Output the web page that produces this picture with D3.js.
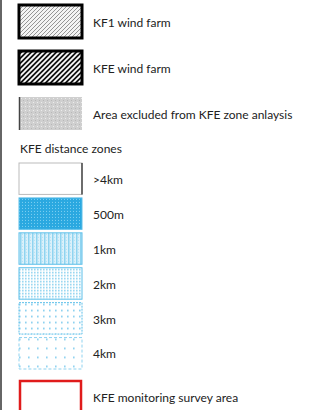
<!DOCTYPE html>
<html>
<head>
<meta charset="utf-8">
<script src="https://cdn.jsdelivr.net/npm/d3@7"></script>
<style>
  body { margin: 0; background: #fff; }
  svg { display: block; font-family: Lato, "Open Sans", sans-serif; }
</style>
</head>
<body>
<div id="chart"></div>
<script>
// Legend entries (top group)
const farmLabels = ['KF1 wind farm', 'KFE wind farm', 'Area excluded from KFE zone anlaysis'];
const farmPatterns = ['hatchLight', 'hatchDark', 'greyDots'];

// Distance zone entries
const zoneTitle = 'KFE distance zones';
const zoneLabels = ['>4km', '500m', '1km', '2km', '3km', '4km'];
const zonePatterns = ['none', 'zone500', 'zone1k', 'zone2k', 'zone3k', 'zone4k'];

// Survey area
const surveyLabel = 'KFE monitoring survey area';

const width = 311, height = 410;
const fontSize = 12;
const svg = d3.select('#chart').append('svg')
    .attr('width', width)
    .attr('height', height);

const defs = svg.append('defs');

// light diagonal hatch
let p = defs.append('pattern').attr('id', 'hatchLight').attr('patternUnits', 'userSpaceOnUse')
    .attr('width', 4).attr('height', 4);
p.append('rect').attr('width', 4).attr('height', 4).attr('fill', '#f4f4f4');
p.append('path').attr('d', 'M-1,1 l2,-2 M0,4 l4,-4 M3,5 l2,-2')
    .attr('stroke', '#8a8a8a').attr('stroke-width', 0.9);

// dark dense hatch
p = defs.append('pattern').attr('id', 'hatchDark').attr('patternUnits', 'userSpaceOnUse')
    .attr('width', 5).attr('height', 5);
p.append('rect').attr('width', 5).attr('height', 5).attr('fill', '#111');
p.append('path').attr('d', 'M-1,1 l2,-2 M0,5 l5,-5 M4,6 l2,-2')
    .attr('stroke', '#fff').attr('stroke-width', 1.7);

// grey fine grid
p = defs.append('pattern').attr('id', 'greyDots').attr('patternUnits', 'userSpaceOnUse')
    .attr('width', 4).attr('height', 4);
p.append('rect').attr('width', 4).attr('height', 4).attr('fill', '#cfcfcf');
p.append('rect').attr('x', 1).attr('y', 1).attr('width', 1).attr('height', 1).attr('fill', '#ececec');
p.append('rect').attr('x', 3).attr('y', 3).attr('width', 1).attr('height', 1).attr('fill', '#b8b8b8');

// blue zone patterns
const dotPattern = (id, size, bg, dot, dotSize) => {
  const q = defs.append('pattern').attr('id', id).attr('patternUnits', 'userSpaceOnUse')
      .attr('width', size).attr('height', size);
  q.append('rect').attr('width', size).attr('height', size).attr('fill', bg);
  q.append('rect').attr('x', 1).attr('y', 1).attr('width', dotSize).attr('height', dotSize).attr('fill', dot);
};
dotPattern('zone500', 3, '#2aa8e0', '#7fd0f2', 1);
p = defs.append('pattern').attr('id', 'zone1k').attr('patternUnits', 'userSpaceOnUse')
    .attr('width', 4).attr('height', 3);
p.append('rect').attr('width', 4).attr('height', 3).attr('fill', '#dcf1fa');
p.append('rect').attr('x', 0).attr('width', 1.5).attr('height', 3).attr('fill', '#8fd4f0');
p.append('rect').attr('x', 2).attr('y', 1).attr('width', 1).attr('height', 1).attr('fill', '#b0e1f5');
dotPattern('zone2k', 3, '#ffffff', '#8fd3f0', 1.6);
dotPattern('zone3k', 6, '#ffffff', '#7ccbee', 1.6);
dotPattern('zone4k', 9, '#ffffff', '#7ccbee', 1.6);

// left border line
svg.append('line')
    .attr('x1', 1).attr('x2', 1).attr('y1', 0).attr('y2', height)
    .attr('stroke', '#333').attr('stroke-width', 1.5);

const swX = 19, swW = 63, textX = 93;

// Top group scale
const yTop = d3.scaleBand()
    .domain(farmLabels)
    .range([5, 130])
    .paddingInner(0.283);

const farm = svg.selectAll('g.farm').data(farmLabels).join('g')
    .attr('class', 'farm')
    .attr('transform', d => `translate(0,${yTop(d)})`);

farm.append('rect')
    .attr('x', swX).attr('y', 0)
    .attr('width', swW).attr('height', yTop.bandwidth())
    .attr('fill', (d, i) => `url(#${farmPatterns[i]})`)
    .attr('stroke', (d, i) => i < 2 ? '#000' : 'none')
    .attr('stroke-width', (d, i) => i < 2 ? 3 : 0);

// excluded area: dark left edge
farm.filter((d, i) => i === 2).append('line')
    .attr('x1', swX + 0.5).attr('x2', swX + 0.5)
    .attr('y1', 0).attr('y2', yTop.bandwidth())
    .attr('stroke', '#444').attr('stroke-width', 1.5);

farm.append('text')
    .attr('x', textX)
    .attr('y', yTop.bandwidth() / 2 + 1)
    .attr('dy', '0.35em')
    .attr('font-size', fontSize)
    .attr('fill', '#222')
    .text(d => d);

// Zone title
svg.append('text')
    .attr('x', 20).attr('y', 153)
    .attr('font-size', fontSize)
    .attr('fill', '#222')
    .text(zoneTitle);

// Zone scale
const yZone = d3.scaleBand()
    .domain(zoneLabels)
    .range([163, 369])
    .paddingInner(0.1);

const zone = svg.selectAll('g.zone').data(zoneLabels).join('g')
    .attr('class', 'zone')
    .attr('transform', d => `translate(0,${yZone(d)})`);

zone.append('rect')
    .attr('x', swX).attr('y', 0)
    .attr('width', swW).attr('height', yZone.bandwidth())
    .attr('fill', (d, i) => zonePatterns[i] === 'none' ? '#fff' : `url(#${zonePatterns[i]})`)
    .attr('stroke', (d, i) => i === 0 ? '#bbb' : (i === 5 ? '#8fd3f0' : '#5cbfe9'))
    .attr('stroke-width', 1)
    .attr('stroke-dasharray', (d, i) => i === 5 ? '3,2' : (i === 4 ? '2,1' : null));

// >4km box has dark right edge
zone.filter((d, i) => i === 0).append('line')
    .attr('x1', swX + swW).attr('x2', swX + swW)
    .attr('y1', 0).attr('y2', yZone.bandwidth())
    .attr('stroke', '#222').attr('stroke-width', 1.2);

zone.append('text')
    .attr('x', textX)
    .attr('y', yZone.bandwidth() / 2 + 1)
    .attr('dy', '0.35em')
    .attr('font-size', fontSize)
    .attr('fill', '#222')
    .text(d => d);

// Survey area
const survey = svg.append('g').attr('transform', 'translate(0,381)');
survey.append('rect')
    .attr('x', swX + 1).attr('y', 0)
    .attr('width', swW - 2).attr('height', 40)
    .attr('fill', '#fff')
    .attr('stroke', '#e01b1b').attr('stroke-width', 2.5);
survey.append('text')
    .attr('x', textX).attr('y', 17)
    .attr('dy', '0.35em')
    .attr('font-size', fontSize)
    .attr('fill', '#222')
    .text(surveyLabel);
</script>
</body>
</html>
